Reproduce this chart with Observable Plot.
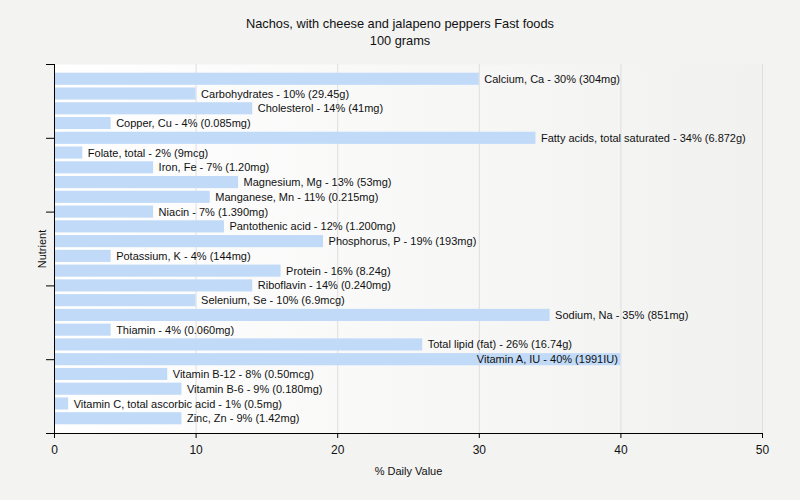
<!DOCTYPE html>
<html>
<head>
<meta charset="utf-8">
<script src="https://cdn.jsdelivr.net/npm/d3@7"></script>
<script src="https://cdn.jsdelivr.net/npm/@observablehq/plot@0.6"></script>
<style>
  html, body { margin: 0; padding: 0; background: #f3f3f2; }
  #wrap { position: relative; width: 800px; height: 500px; font-family: "Liberation Sans", Arial, sans-serif; }
  #title { position: absolute; top: 15px; left: 0; width: 800px; text-align: center; font-size: 12.8px; line-height: 17px; color: #111; }
  #chart { position: absolute; top: 0; left: 0; }
</style>
</head>
<body>
<div id="wrap">
  <div id="chart"></div>
  <div id="title">Nachos, with cheese and jalapeno peppers Fast foods<br>100 grams</div>
</div>
<script>
const nutrients = [
  "Calcium, Ca", "Carbohydrates", "Cholesterol", "Copper, Cu",
  "Fatty acids, total saturated", "Folate, total", "Iron, Fe", "Magnesium, Mg",
  "Manganese, Mn", "Niacin", "Pantothenic acid", "Phosphorus, P",
  "Potassium, K", "Protein", "Riboflavin", "Selenium, Se",
  "Sodium, Na", "Thiamin", "Total lipid (fat)", "Vitamin A, IU",
  "Vitamin B-12", "Vitamin B-6", "Vitamin C, total ascorbic acid", "Zinc, Zn"
];
const dailyValues = [30, 10, 14, 4, 34, 2, 7, 13, 11, 7, 12, 19, 4, 16, 14, 10, 35, 4, 26, 40, 8, 9, 1, 9];
const amounts = [
  "304mg", "29.45g", "41mg", "0.085mg", "6.872g", "9mcg", "1.20mg", "53mg",
  "0.215mg", "1.390mg", "1.200mg", "193mg", "144mg", "8.24g", "0.240mg", "6.9mcg",
  "851mg", "0.060mg", "16.74g", "1991IU", "0.50mcg", "0.180mg", "0.5mg", "1.42mg"
];
const xTicks = [0, 10, 20, 30, 40, 50];
const yTicks = [-1, 4, 9, 14, 19, 24];
const xLabel = "% Daily Value";
const yLabel = "Nutrient";

const data = nutrients.map((n, i) => ({
  name: n, i, value: dailyValues[i],
  label: `${n} - ${dailyValues[i]}% (${amounts[i]})`
}));
const inside = data.filter(d => d.value >= 38);
const outside = data.filter(d => d.value < 38);

const plot = Plot.plot({
  width: 800,
  height: 500,
  marginTop: 64,
  marginBottom: 67,
  marginLeft: 54,
  marginRight: 38,
  style: { background: "transparent", fontFamily: "Liberation Sans, Arial, sans-serif", fontSize: "11px", color: "#111" },
  x: { domain: [0, 50] },
  y: { domain: [24, -1] },
  marks: [
    Plot.frame({ fill: "url(#bggrad)", stroke: null }),
    Plot.ruleX(xTicks.filter(t => t > 0), { stroke: "#dedede", strokeWidth: 1, strokeOpacity: 1 }),
    Plot.rectX(data, { x1: 0, x2: "value", y1: d => d.i - 0.41, y2: d => d.i + 0.41, fill: "#c0daf8" }),
    Plot.text(outside, { x: "value", y: "i", text: "label", textAnchor: "start", dx: 5, fill: "#111", fontSize: 11 }),
    Plot.text(inside, { x: "value", y: "i", text: "label", textAnchor: "end", dx: -3, fill: "#111", fontSize: 11 }),
    Plot.axisX({ ticks: xTicks, tickSize: 5, tickPadding: 7, fontSize: 12, label: null, stroke: "#000" }),
    Plot.ruleY([24], { x1: 0, x2: 50, stroke: "#000" }),
    Plot.axisY({ ticks: yTicks, tickSize: 8, tickFormat: () => "", label: null, stroke: "#000" }),
    Plot.ruleX([0], { stroke: "#000" }),
    Plot.text([xLabel], { frameAnchor: "bottom", dy: 41, text: d => d, fill: "#111", fontSize: 11 }),
    Plot.text([yLabel], { frameAnchor: "left", textAnchor: "middle", dx: -12, rotate: -90, text: d => d, fill: "#111", fontSize: 11 })
  ]
});

const svg = d3.select(plot);
const defs = svg.insert("defs", ":first-child");
const g = defs.append("linearGradient").attr("id", "bggrad").attr("x1", "0%").attr("x2", "100%").attr("y1", "0%").attr("y2", "0%");
g.append("stop").attr("offset", "0%").attr("stop-color", "#ffffff");
g.append("stop").attr("offset", "100%").attr("stop-color", "#f1f1f0");
document.getElementById("chart").appendChild(plot);
</script>
</body>
</html>
